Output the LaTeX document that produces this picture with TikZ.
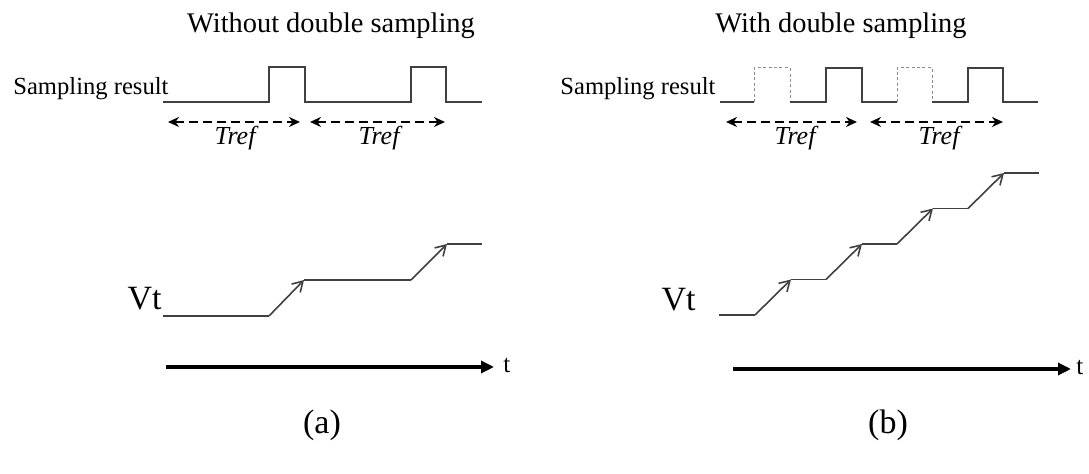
\documentclass[tikz,border=0pt]{standalone}
\usepackage{fontspec}
\setmainfont{Liberation Serif}
\usetikzlibrary{arrows.meta}

\tikzset{
  wave/.style={line width=0.8pt, draw=black!75},
  ghost/.style={line width=0.5pt, draw=black!45, dash pattern=on 1.5pt off 1.2pt},
  period/.style={line width=1.3pt, dash pattern=on 4.5pt off 2.5pt,
    {Stealth[length=5.5pt,width=5pt]}-{Stealth[length=5.5pt,width=5pt]}},
  ramp/.style={wave, -{Straight Barb[length=5pt,width=6pt]}},
  timeaxis/.style={line width=1.6pt, -{Triangle[length=6.5pt,width=6pt]}},
  headtext/.style={font=\fontsize{14.2}{17}\selectfont, anchor=base, inner sep=0pt},
  sigtext/.style={font=\fontsize{12.3}{15}\selectfont, anchor=base west, inner sep=0pt},
  treftext/.style={font=\fontsize{13}{15}\selectfont\itshape, anchor=base, inner sep=0pt},
  vttext/.style={font=\fontsize{17}{20}\selectfont, anchor=base east, inner sep=0pt},
  ttext/.style={font=\fontsize{12.6}{15}\selectfont, anchor=base west, inner sep=0pt},
  subcap/.style={font=\fontsize{17}{20}\selectfont, anchor=base, inner sep=0pt},
}

\begin{document}
\begin{tikzpicture}[x=0.5pt, y=-0.5pt]
    \useasboundingbox (0,0) rectangle (1089,474);

    % Titles
    \node[headtext] (titleA) at (331,33) {Without double sampling};
    \node[headtext] (titleB) at (841,33) {With double sampling};

    % (a) sampling result
    \node[sigtext] (srA) at (13,95) {Sampling result};
    \draw[wave] (163,102) -- (269,102) -- (269,67) -- (305,67) -- (305,102)
        -- (411,102) -- (411,67) -- (446,67) -- (446,102) -- (482,102);

    % (a) refresh periods
    \coordinate (pA0) at (168,122);
    \coordinate (pA1) at (300,122);
    \coordinate (pA2) at (310,122);
    \coordinate (pA3) at (445,122);
    \draw[period] (pA0) -- (pA1);
    \draw[period] (pA2) -- (pA3);
    \node[treftext] (trefA1) at (235,145) {Tref};
    \node[treftext] (trefA2) at (379,145) {Tref};

    % (b) sampling result, extra samples dotted
    \node[sigtext] (srB) at (560,95) {Sampling result};
    \draw[wave] (720,102) -- (754,102);
    \draw[ghost] (754,102) -- (754,68) -- (790,68) -- (790,102);
    \draw[wave] (790,102) -- (826,102) -- (826,68) -- (862,68) -- (862,102) -- (897,102);
    \draw[ghost] (897,102) -- (897,68) -- (932,68) -- (932,102);
    \draw[wave] (932,102) -- (968,102) -- (968,68) -- (1003,68) -- (1003,102) -- (1038,102);

    % (b) refresh periods
    \coordinate (pB0) at (726,122);
    \coordinate (pB1) at (857,122);
    \coordinate (pB2) at (870,122);
    \coordinate (pB3) at (1003,122);
    \draw[period] (pB0) -- (pB1);
    \draw[period] (pB2) -- (pB3);
    \node[treftext] (trefB1) at (795,145) {Tref};
    \node[treftext] (trefB2) at (939,145) {Tref};

    % (a) threshold voltage
    \node[vttext] (vtA) at (162,310) {Vt};
    \draw[wave] (163,316) -- (269,316);
    \draw[ramp] (269,316) -- (304,280);
    \draw[wave] (304,280) -- (411,280);
    \draw[ramp] (411,280) -- (447,244);
    \draw[wave] (447,244) -- (482,244);

    % (b) threshold voltage
    \node[vttext] (vtB) at (696,311) {Vt};
    \draw[wave] (719,315) -- (755,315);
    \foreach \i in {0,...,3} {
        \draw[ramp] ({755+71*\i},{315-35.5*\i}) -- ++(36,-35.5);
        \draw[wave] ({791+71*\i},{279.5-35.5*\i}) -- ++(35,0);
    }

    % Time axes
    \coordinate (axA0) at (166,367);
    \coordinate (axA1) at (494,367);
    \node[ttext] (tA) at (503,373) {t};
    \draw[timeaxis] (axA0) -- (axA1);
    \coordinate (axB0) at (733,369);
    \coordinate (axB1) at (1071,369);
    \node[ttext] (tB) at (1076,375) {t};
    \draw[timeaxis] (axB0) -- (axB1);

    % Captions
    \node[subcap] (capA) at (322,434) {(a)};
    \node[subcap] (capB) at (888,434) {(b)};
\end{tikzpicture}
\end{document}
